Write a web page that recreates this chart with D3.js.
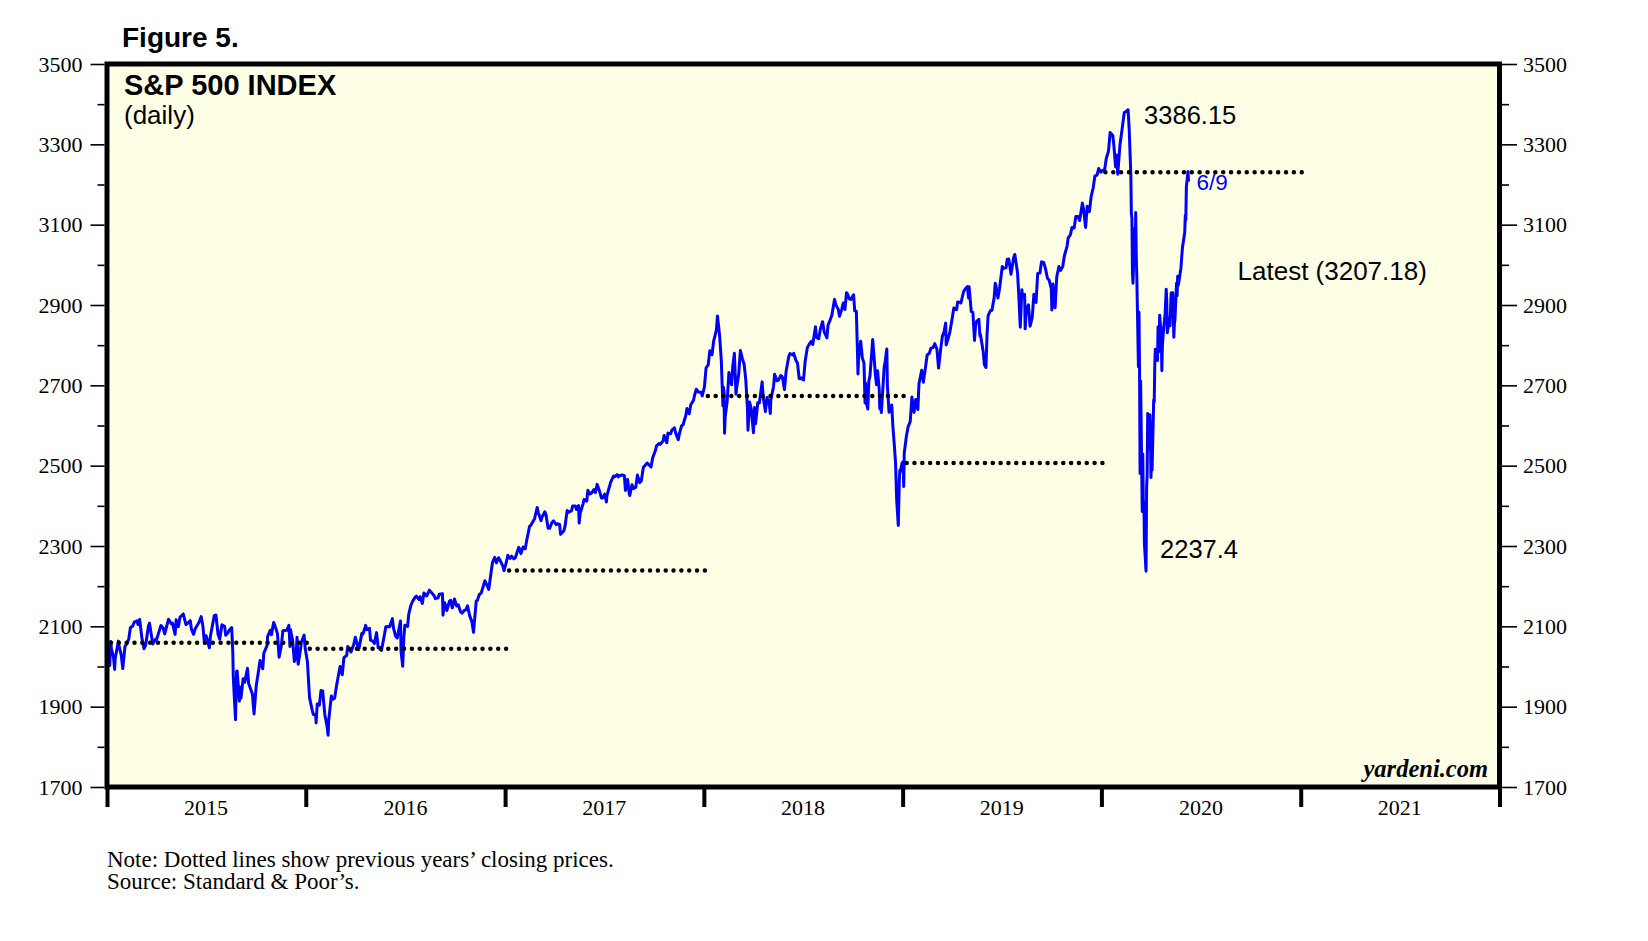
<!DOCTYPE html>
<html><head><meta charset="utf-8">
<script src="https://cdn.jsdelivr.net/npm/d3@7"></script>
<style>body{margin:0;background:#fff} svg{display:block}</style>
</head><body>
<svg id="c" width="1648" height="941"></svg>
<script>
// ---------------- DATA ----------------
const dates = [
"2015-01-02","2015-01-05","2015-01-06","2015-01-08","2015-01-09","2015-01-13","2015-01-15","2015-01-16","2015-01-22","2015-01-23","2015-01-27","2015-01-30",
"2015-02-03","2015-02-06","2015-02-10","2015-02-13","2015-02-17","2015-02-20","2015-02-25","2015-02-27",
"2015-03-02","2015-03-06","2015-03-10","2015-03-13","2015-03-18","2015-03-20","2015-03-26","2015-03-31",
"2015-04-02","2015-04-10","2015-04-14","2015-04-17","2015-04-24","2015-04-29",
"2015-05-01","2015-05-06","2015-05-08","2015-05-12","2015-05-15","2015-05-21","2015-05-26","2015-05-29",
"2015-06-03","2015-06-05","2015-06-09","2015-06-12","2015-06-19","2015-06-23","2015-06-26","2015-06-29",
"2015-07-02","2015-07-08","2015-07-10","2015-07-17","2015-07-20","2015-07-24","2015-07-27","2015-07-31",
"2015-08-05","2015-08-07","2015-08-11","2015-08-14","2015-08-18","2015-08-20","2015-08-21","2015-08-24","2015-08-25","2015-08-26","2015-08-27","2015-08-28",
"2015-09-01","2015-09-02","2015-09-04","2015-09-08","2015-09-11","2015-09-16","2015-09-18","2015-09-22","2015-09-25","2015-09-28",
"2015-10-02","2015-10-07","2015-10-09","2015-10-14","2015-10-16","2015-10-22","2015-10-23","2015-10-28","2015-10-30",
"2015-11-03","2015-11-06","2015-11-10","2015-11-13","2015-11-17","2015-11-20","2015-11-27",
"2015-12-01","2015-12-03","2015-12-04","2015-12-08","2015-12-11","2015-12-14","2015-12-16","2015-12-18","2015-12-22","2015-12-24","2015-12-29","2015-12-31",
"2016-01-04","2016-01-07","2016-01-08","2016-01-13","2016-01-15","2016-01-19","2016-01-20","2016-01-22","2016-01-26","2016-01-29",
"2016-02-01","2016-02-05","2016-02-09","2016-02-11","2016-02-12","2016-02-17","2016-02-19","2016-02-23","2016-02-26",
"2016-03-01","2016-03-04","2016-03-08","2016-03-11","2016-03-16","2016-03-18","2016-03-24","2016-03-29",
"2016-04-01","2016-04-07","2016-04-08","2016-04-13","2016-04-15","2016-04-20","2016-04-22","2016-04-27","2016-04-29",
"2016-05-03","2016-05-06","2016-05-10","2016-05-13","2016-05-17","2016-05-19","2016-05-24","2016-05-27",
"2016-06-01","2016-06-03","2016-06-08","2016-06-10","2016-06-14","2016-06-17","2016-06-23","2016-06-24","2016-06-27","2016-06-29",
"2016-07-01","2016-07-06","2016-07-08","2016-07-12","2016-07-15","2016-07-20","2016-07-22","2016-07-27","2016-07-29",
"2016-08-02","2016-08-05","2016-08-10","2016-08-15","2016-08-19","2016-08-24","2016-08-26","2016-08-31",
"2016-09-02","2016-09-08","2016-09-09","2016-09-12","2016-09-15","2016-09-16","2016-09-21","2016-09-23","2016-09-26","2016-09-30",
"2016-10-04","2016-10-07","2016-10-11","2016-10-14","2016-10-18","2016-10-21","2016-10-24","2016-10-28",
"2016-11-01","2016-11-04","2016-11-07","2016-11-09","2016-11-11","2016-11-15","2016-11-18","2016-11-23","2016-11-25","2016-11-30",
"2016-12-02","2016-12-07","2016-12-09","2016-12-13","2016-12-16","2016-12-20","2016-12-23","2016-12-28","2016-12-30",
"2017-01-03","2017-01-06","2017-01-10","2017-01-13","2017-01-17","2017-01-20","2017-01-26","2017-01-27","2017-01-30",
"2017-02-03","2017-02-07","2017-02-10","2017-02-15","2017-02-17","2017-02-22","2017-02-24",
"2017-03-01","2017-03-03","2017-03-08","2017-03-10","2017-03-15","2017-03-17","2017-03-21","2017-03-24","2017-03-28","2017-03-31",
"2017-04-05","2017-04-07","2017-04-11","2017-04-13","2017-04-19","2017-04-21","2017-04-25","2017-04-28",
"2017-05-03","2017-05-05","2017-05-10","2017-05-12","2017-05-16","2017-05-17","2017-05-19","2017-05-24","2017-05-26","2017-05-31",
"2017-06-02","2017-06-06","2017-06-09","2017-06-13","2017-06-16","2017-06-19","2017-06-23","2017-06-27","2017-06-29",
"2017-07-03","2017-07-06","2017-07-07","2017-07-14","2017-07-19","2017-07-21","2017-07-26","2017-07-28",
"2017-08-01","2017-08-04","2017-08-08","2017-08-10","2017-08-14","2017-08-17","2017-08-18","2017-08-22","2017-08-25","2017-08-29",
"2017-09-01","2017-09-05","2017-09-08","2017-09-12","2017-09-15","2017-09-19","2017-09-22","2017-09-26","2017-09-29",
"2017-10-04","2017-10-06","2017-10-11","2017-10-13","2017-10-18","2017-10-20","2017-10-25","2017-10-27",
"2017-11-01","2017-11-03","2017-11-08","2017-11-10","2017-11-15","2017-11-17","2017-11-21","2017-11-24","2017-11-29",
"2017-12-01","2017-12-05","2017-12-08","2017-12-13","2017-12-15","2017-12-18","2017-12-22","2017-12-27","2017-12-29",
"2018-01-02","2018-01-05","2018-01-09","2018-01-12","2018-01-16","2018-01-19","2018-01-24","2018-01-26","2018-01-30",
"2018-02-02","2018-02-05","2018-02-06","2018-02-07","2018-02-08","2018-02-09","2018-02-13","2018-02-16","2018-02-21","2018-02-23","2018-02-26",
"2018-03-01","2018-03-02","2018-03-06","2018-03-09","2018-03-13","2018-03-16","2018-03-19","2018-03-22","2018-03-23","2018-03-26","2018-03-29",
"2018-04-02","2018-04-04","2018-04-06","2018-04-10","2018-04-13","2018-04-18","2018-04-20","2018-04-24","2018-04-27",
"2018-05-01","2018-05-03","2018-05-04","2018-05-09","2018-05-11","2018-05-15","2018-05-18","2018-05-22","2018-05-25","2018-05-29",
"2018-06-01","2018-06-06","2018-06-08","2018-06-13","2018-06-15","2018-06-19","2018-06-22","2018-06-25","2018-06-28","2018-06-29",
"2018-07-03","2018-07-06","2018-07-10","2018-07-13","2018-07-17","2018-07-20","2018-07-25","2018-07-27","2018-07-31",
"2018-08-03","2018-08-07","2018-08-10","2018-08-15","2018-08-17","2018-08-21","2018-08-24","2018-08-29","2018-08-31",
"2018-09-05","2018-09-07","2018-09-11","2018-09-14","2018-09-17","2018-09-20","2018-09-21","2018-09-25","2018-09-28",
"2018-10-03","2018-10-05","2018-10-08","2018-10-10","2018-10-11","2018-10-12","2018-10-16","2018-10-19","2018-10-22","2018-10-24","2018-10-25","2018-10-26","2018-10-29","2018-10-31",
"2018-11-02","2018-11-07","2018-11-09","2018-11-12","2018-11-14","2018-11-16","2018-11-19","2018-11-20","2018-11-21","2018-11-23","2018-11-28","2018-11-30",
"2018-12-03","2018-12-04","2018-12-07","2018-12-10","2018-12-12","2018-12-14","2018-12-17","2018-12-19","2018-12-21","2018-12-24","2018-12-26","2018-12-27","2018-12-28","2018-12-31",
"2019-01-02","2019-01-03","2019-01-04","2019-01-08","2019-01-11","2019-01-15","2019-01-18","2019-01-22","2019-01-25","2019-01-29","2019-01-31",
"2019-02-05","2019-02-08","2019-02-12","2019-02-15","2019-02-19","2019-02-22","2019-02-26",
"2019-03-01","2019-03-05","2019-03-08","2019-03-12","2019-03-15","2019-03-18","2019-03-21","2019-03-22","2019-03-26","2019-03-29",
"2019-04-02","2019-04-05","2019-04-10","2019-04-12","2019-04-16","2019-04-18","2019-04-23","2019-04-26","2019-04-30",
"2019-05-02","2019-05-03","2019-05-07","2019-05-10","2019-05-13","2019-05-15","2019-05-17","2019-05-21","2019-05-23","2019-05-24","2019-05-29","2019-05-31",
"2019-06-03","2019-06-05","2019-06-07","2019-06-11","2019-06-14","2019-06-18","2019-06-20","2019-06-21","2019-06-25","2019-06-28",
"2019-07-03","2019-07-05","2019-07-10","2019-07-12","2019-07-15","2019-07-19","2019-07-24","2019-07-26","2019-07-31",
"2019-08-02","2019-08-05","2019-08-08","2019-08-09","2019-08-13","2019-08-14","2019-08-16","2019-08-20","2019-08-23","2019-08-27","2019-08-30",
"2019-09-03","2019-09-06","2019-09-10","2019-09-13","2019-09-17","2019-09-20","2019-09-24","2019-09-27",
"2019-10-01","2019-10-02","2019-10-04","2019-10-08","2019-10-11","2019-10-15","2019-10-18","2019-10-22","2019-10-25","2019-10-30",
"2019-11-01","2019-11-05","2019-11-08","2019-11-12","2019-11-15","2019-11-19","2019-11-22","2019-11-27","2019-11-29",
"2019-12-03","2019-12-06","2019-12-10","2019-12-13","2019-12-17","2019-12-20","2019-12-24","2019-12-27","2019-12-31",
"2020-01-03","2020-01-07","2020-01-10","2020-01-14","2020-01-17","2020-01-22","2020-01-24","2020-01-27","2020-01-29","2020-01-31",
"2020-02-04","2020-02-07","2020-02-12","2020-02-14","2020-02-19","2020-02-21","2020-02-24","2020-02-25","2020-02-26","2020-02-27","2020-02-28",
"2020-03-02","2020-03-03","2020-03-04","2020-03-05","2020-03-06","2020-03-09","2020-03-10","2020-03-11","2020-03-12","2020-03-13","2020-03-16","2020-03-17","2020-03-18","2020-03-19","2020-03-20","2020-03-23","2020-03-24","2020-03-25","2020-03-26","2020-03-27","2020-03-30","2020-03-31",
"2020-04-01","2020-04-02","2020-04-03","2020-04-06","2020-04-07","2020-04-08","2020-04-09","2020-04-13","2020-04-14","2020-04-15","2020-04-16","2020-04-17","2020-04-20","2020-04-21","2020-04-22","2020-04-24","2020-04-27","2020-04-29","2020-04-30",
"2020-05-01","2020-05-05","2020-05-06","2020-05-08","2020-05-11","2020-05-13","2020-05-14","2020-05-15","2020-05-18","2020-05-19","2020-05-20","2020-05-21","2020-05-22","2020-05-26","2020-05-28","2020-05-29",
"2020-06-02","2020-06-03","2020-06-04","2020-06-05","2020-06-08","2020-06-09"
];
const closes = [
2058.20,2020.58,2002.61,2062.14,2044.81,2023.03,1992.67,2019.42,2063.15,2051.82,2029.55,1994.99,
2050.03,2055.47,2068.59,2096.99,2100.34,2110.30,2113.86,2104.50,
2117.39,2071.26,2044.16,2053.40,2099.50,2108.10,2056.15,2067.89,
2066.96,2102.06,2095.84,2081.18,2117.69,2106.85,
2108.29,2080.15,2116.10,2099.12,2122.73,2130.82,2104.20,2107.39,
2114.07,2092.83,2080.15,2094.11,2109.99,2124.20,2101.49,2057.64,
2076.78,2046.68,2076.62,2126.64,2128.28,2079.65,2067.64,2103.84,
2099.84,2077.57,2084.07,2091.54,2096.92,2035.73,1970.89,1893.21,1867.61,1940.51,1987.66,1988.87,
1913.85,1948.86,1921.22,1969.41,1961.05,1995.31,1958.03,1942.74,1931.34,1881.77,
1951.36,1995.83,2014.89,1994.24,2033.11,2052.51,2075.15,2090.35,2079.36,
2109.79,2099.20,2081.72,2023.04,2050.44,2089.17,2090.11,
2102.63,2049.62,2091.69,2063.59,2012.37,2021.94,2073.07,2005.55,2038.97,2060.99,2078.36,2043.94,
2012.66,1943.09,1922.03,1890.28,1880.33,1881.33,1859.33,1906.90,1903.63,1940.24,
1939.38,1880.05,1852.21,1829.08,1864.78,1926.82,1917.78,1921.27,1948.05,
1978.35,1999.99,1979.26,2022.19,2027.22,2049.58,2035.94,2055.01,
2072.78,2041.91,2047.60,2082.42,2080.73,2102.40,2091.58,2095.15,2065.30,
2063.37,2057.14,2084.39,2046.61,2047.21,2040.04,2076.06,2099.06,
2099.33,2099.13,2119.12,2096.07,2075.32,2071.22,2113.32,2037.41,2000.54,2070.77,
2102.95,2099.73,2129.90,2152.14,2161.74,2173.02,2175.03,2166.58,2173.60,
2157.03,2182.87,2175.49,2190.15,2183.87,2175.44,2169.04,2170.95,
2179.98,2181.30,2127.81,2159.04,2147.26,2139.16,2163.12,2164.69,2146.10,2168.27,
2150.49,2153.74,2136.73,2132.98,2139.60,2141.16,2151.33,2126.41,
2111.72,2085.18,2131.52,2163.26,2164.45,2180.39,2181.90,2204.72,2213.35,2198.81,
2191.95,2241.35,2259.53,2271.72,2258.07,2270.76,2263.79,2249.92,2238.83,
2257.83,2276.98,2268.90,2274.64,2267.89,2271.31,2296.68,2294.69,2280.90,
2297.42,2293.08,2316.10,2349.25,2351.16,2362.82,2367.34,
2395.96,2383.12,2362.98,2372.60,2385.26,2378.25,2344.02,2343.98,2358.57,2362.72,
2352.95,2355.54,2353.78,2328.95,2338.17,2348.69,2388.61,2384.20,
2388.13,2399.29,2399.63,2390.90,2400.67,2357.03,2381.73,2404.39,2415.82,2411.80,
2439.07,2429.33,2431.77,2440.35,2433.15,2453.46,2438.30,2419.38,2419.70,
2429.01,2409.75,2425.18,2459.27,2473.83,2472.54,2477.83,2472.10,
2476.35,2476.83,2474.92,2438.21,2465.84,2430.01,2425.55,2452.51,2443.05,2446.30,
2476.55,2457.85,2461.43,2496.48,2500.23,2506.65,2502.22,2496.84,2519.36,
2537.74,2549.33,2555.24,2553.17,2561.26,2575.21,2557.15,2581.07,
2579.36,2587.84,2594.38,2582.30,2564.62,2578.85,2599.03,2602.42,2626.07,
2642.22,2629.27,2651.50,2662.85,2675.81,2690.16,2683.34,2682.62,2673.61,
2695.81,2743.15,2751.29,2786.24,2776.42,2810.30,2837.54,2872.87,2822.43,
2762.13,2648.94,2695.14,2681.66,2581.00,2619.55,2662.94,2732.22,2701.33,2747.30,2779.60,
2677.67,2691.25,2728.12,2786.57,2765.31,2752.01,2712.92,2643.69,2588.26,2658.55,2640.87,
2581.88,2644.69,2604.47,2656.87,2656.30,2708.64,2670.14,2634.56,2669.91,
2654.80,2629.73,2663.42,2697.79,2727.72,2711.45,2712.97,2724.44,2721.33,2689.86,
2734.62,2772.35,2779.03,2775.63,2779.66,2762.59,2754.88,2717.07,2716.31,2718.37,
2713.22,2759.82,2793.84,2801.31,2809.55,2801.83,2846.07,2818.82,2816.29,
2840.35,2858.45,2833.28,2818.37,2850.13,2862.96,2874.69,2914.04,2901.52,
2888.60,2871.68,2887.89,2904.98,2888.80,2930.75,2929.67,2915.56,2913.98,
2925.51,2885.57,2884.43,2785.68,2728.37,2767.13,2809.92,2767.78,2755.88,2656.10,2705.57,2658.69,2641.25,2711.74,
2723.06,2813.89,2781.01,2726.22,2701.58,2736.27,2690.73,2641.89,2649.93,2632.56,2743.79,2760.17,
2790.37,2700.06,2633.08,2637.72,2651.07,2599.95,2545.94,2506.96,2416.62,2351.10,2467.70,2488.83,2485.74,2506.85,
2510.03,2447.89,2531.94,2574.41,2596.26,2610.30,2670.71,2632.90,2664.76,2640.00,2704.10,
2737.70,2707.88,2744.73,2775.60,2779.76,2792.67,2793.90,
2803.69,2789.65,2743.07,2791.52,2822.48,2832.94,2854.88,2800.71,2818.46,2834.40,
2867.24,2892.74,2888.21,2907.41,2907.06,2905.03,2933.68,2939.88,2945.83,
2917.52,2945.64,2884.05,2881.40,2811.87,2850.96,2859.53,2864.36,2822.24,2826.06,2783.02,2752.06,
2744.45,2826.15,2873.34,2885.72,2886.98,2917.75,2954.18,2950.46,2917.38,2941.76,
2995.82,2990.41,2993.07,3013.77,3014.30,2976.61,3019.56,3025.86,2980.38,
2932.05,2844.74,2938.09,2918.65,2926.32,2840.60,2888.68,2900.51,2847.11,2869.16,2926.46,
2906.27,2978.71,2979.39,3007.39,3005.70,2992.07,2966.60,2961.79,
2940.25,2887.61,2952.01,2893.06,2970.27,2995.68,2986.20,2995.99,3022.55,3046.77,
3066.91,3074.62,3093.08,3091.84,3120.46,3120.18,3110.29,3153.63,3140.98,
3093.20,3145.91,3132.52,3168.80,3192.52,3221.22,3223.38,3240.02,3230.78,
3234.85,3237.18,3265.35,3283.15,3329.62,3321.75,3295.47,3243.63,3273.40,3225.52,
3297.59,3327.71,3379.45,3380.16,3386.15,3337.75,3225.89,3128.21,3116.39,2978.76,2954.22,
3090.23,3003.37,3130.12,3023.94,2972.37,2746.56,2882.23,2741.38,2480.64,2711.02,2386.13,2529.19,2398.10,2409.39,2304.92,2237.40,2447.33,2475.56,2630.07,2541.47,2626.65,2584.59,
2470.50,2526.90,2488.65,2663.68,2659.41,2749.98,2789.82,2761.63,2846.06,2783.36,2799.55,2874.56,2823.16,2736.56,2799.31,2836.74,2878.48,2939.51,2912.43,
2830.71,2868.44,2848.42,2929.80,2930.32,2820.00,2852.50,2863.70,2953.91,2922.94,2971.61,2948.51,2955.45,2991.77,3029.73,3044.31,
3080.82,3122.87,3112.35,3193.93,3232.39,3207.18
];
// previous year's closing price, drawn across each year
const prevYears  = [2015, 2016, 2017, 2018, 2019, 2020];
const prevCloses = [2058.90, 2043.94, 2238.83, 2673.61, 2506.85, 3230.78];
const yearLabels = [2015, 2016, 2017, 2018, 2019, 2020, 2021];
const majorTicks = [1700, 1900, 2100, 2300, 2500, 2700, 2900, 3100, 3300, 3500];
const minorTicks = [1800, 2000, 2200, 2400, 2600, 2800, 3000, 3200, 3400];
const peakLabel = {date: "2020-02-19", value: 3386.15, text: "3386.15"};
const troughLabel = {date: "2020-03-23", value: 2237.4, text: "2237.4"};

// ---------------- CHART ----------------
const svg = d3.select("#c");
const L = 107, R = 1499.5, T = 64, B = 787;
const parse = d3.timeParse("%Y-%m-%d");
const x = d3.scaleTime().domain([new Date(2015,0,1), new Date(2022,0,1)]).range([L, R]);
const y = d3.scaleLinear().domain([1700, 3500]).range([B, T]);
const SANS = "'Liberation Sans', Arial, Helvetica, sans-serif";
const SERIF = "'Liberation Serif', 'Times New Roman', Times, serif";

svg.append("rect").attr("x", L).attr("y", T).attr("width", R - L).attr("height", B - T)
  .attr("fill", "#ffffe6");

const series = dates.map((d, i) => ({date: parse(d), value: closes[i]}));
svg.append("path").datum(series)
  .attr("fill", "none").attr("stroke", "#0000ff").attr("stroke-width", 3)
  .attr("stroke-linejoin", "round")
  .attr("d", d3.line().x(d => x(d.date)).y(d => y(d.value)));

// dotted previous-year close lines (spacing adjusted so dots fill each year)
svg.append("g").selectAll("line").data(prevYears).join("line")
  .each(function(d, i) {
    const x1 = x(new Date(d,0,1)) + 4, x2 = x(new Date(d+1,0,1)) + 1;
    const n = Math.round((x2 - x1) / 7.8);
    d3.select(this).attr("x1", x1).attr("x2", x2 + 0.5)
      .attr("y1", y(prevCloses[i])).attr("y2", y(prevCloses[i]))
      .attr("stroke-dasharray", `0 ${(x2 - x1) / n}`);
  })
  .attr("stroke", "#000").attr("stroke-width", 4.5).attr("stroke-linecap", "round");

// frame
svg.append("rect").attr("x", L).attr("y", T).attr("width", R - L).attr("height", B - T)
  .attr("fill", "none").attr("stroke", "#000").attr("stroke-width", 5);

function styleAxis(g, size) {
  g.select(".domain").remove();
  g.selectAll(".tick line").attr("stroke", "#000").attr("stroke-width", 1.6);
  g.selectAll("text").attr("font-family", SERIF).attr("font-size", size).attr("fill", "#000");
}
// left axis
svg.append("g").attr("transform", `translate(${L-2.5},0)`)
  .call(d3.axisLeft(y).tickValues(majorTicks).tickSize(14).tickPadding(8).tickFormat(d3.format("d")))
  .call(g => styleAxis(g, 22));
svg.append("g").attr("transform", `translate(${L-2.5},0)`)
  .call(d3.axisLeft(y).tickValues(minorTicks).tickSize(7).tickFormat(""))
  .call(g => styleAxis(g, 22));
// right axis
svg.append("g").attr("transform", `translate(${R+2.5},0)`)
  .call(d3.axisRight(y).tickValues(majorTicks).tickSize(15).tickPadding(6).tickFormat(d3.format("d")))
  .call(g => styleAxis(g, 22));
svg.append("g").attr("transform", `translate(${R+2.5},0)`)
  .call(d3.axisRight(y).tickValues(minorTicks).tickSize(7).tickFormat(""))
  .call(g => styleAxis(g, 22));

// bottom year boundaries
const bounds = d3.range(2015, 2023).map(yr => new Date(yr,0,1));
svg.append("g").attr("transform", `translate(0,${B})`)
  .call(d3.axisBottom(x).tickValues(bounds).tickSize(20).tickFormat(""))
  .call(g => { g.select(".domain").remove(); g.selectAll(".tick line").attr("stroke", "#000").attr("stroke-width", 4); });
svg.append("g").selectAll("text").data(yearLabels).join("text")
  .attr("x", d => x(new Date(d, 6, 2))).attr("y", 815)
  .attr("text-anchor", "middle").attr("font-family", SERIF).attr("font-size", 22).attr("fill", "#000")
  .text(d => d);

// titles
svg.append("text").attr("x", 122).attr("y", 47).attr("font-family", SANS).attr("font-weight", "bold")
  .attr("font-size", 28).text("Figure 5.");
svg.append("text").attr("x", 124).attr("y", 95).attr("font-family", SANS).attr("font-weight", "bold")
  .attr("font-size", 29).text("S&P 500 INDEX");
svg.append("text").attr("x", 124).attr("y", 124).attr("font-family", SANS)
  .attr("font-size", 26).text("(daily)");

// annotations
const last = series[series.length - 1];
svg.append("text").attr("x", x(parse(peakLabel.date)) + 16).attr("y", y(peakLabel.value) + 14)
  .attr("font-family", SANS).attr("font-size", 25.5).text(peakLabel.text);
svg.append("text").attr("x", x(parse(troughLabel.date)) + 14).attr("y", y(troughLabel.value) - 13)
  .attr("font-family", SANS).attr("font-size", 25.5).text(troughLabel.text);
svg.append("text").attr("x", x(last.date) + 8).attr("y", y(last.value) + 8)
  .attr("font-family", SANS).attr("font-size", 22.5).attr("fill", "#0000ff")
  .text(d3.timeFormat("%-m/%-d")(last.date));
svg.append("text").attr("x", x(last.date) + 49).attr("y", y(last.value) + 98)
  .attr("font-family", SANS).attr("font-size", 26).text(`Latest (${last.value.toFixed(2)})`);

svg.append("text").attr("x", 1488).attr("y", 777).attr("text-anchor", "end")
  .attr("font-family", SERIF).attr("font-style", "italic").attr("font-weight", "bold")
  .attr("font-size", 24.5).text("yardeni.com");

// notes
svg.append("text").attr("x", 107).attr("y", 867).attr("font-family", SERIF).attr("font-size", 23)
  .text("Note: Dotted lines show previous years\u2019 closing prices.");
svg.append("text").attr("x", 107).attr("y", 889).attr("font-family", SERIF).attr("font-size", 23)
  .text("Source: Standard & Poor\u2019s.");
</script>
</body></html>
